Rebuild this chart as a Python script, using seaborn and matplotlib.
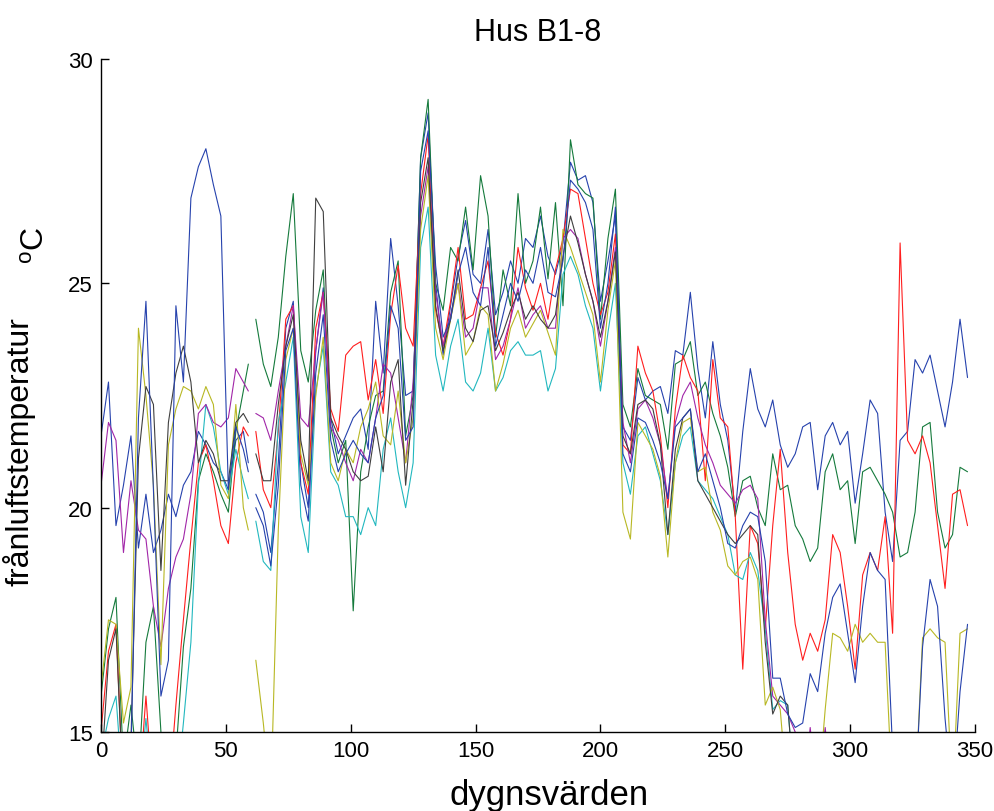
import numpy as np
import pandas as pd
import matplotlib
matplotlib.use('Agg')
import matplotlib.pyplot as plt
import seaborn as sns

# dygnsvärden: dag-index (glapp mellan dag 59 och 62)
days_pre = [0, 3, 6, 9, 12, 15, 18, 21, 24, 27, 30, 33, 36, 39, 42, 45, 48, 51, 54, 57, 59]
days_post = list(range(62, 348, 3))
L = 13.5  # under axeln (syns ej)

# frånluftstemperatur per hus, före och efter glappet
blue_a_pre = [21.6, 22.8, 19.6, 20.5, 21.6, 19.1, 20.3, 19.0, 19.5, 20.3, 19.8, 20.5, 20.8, 21.7, 21.4, 21.0, 20.8, 20.4, 21.5, 21.7, 21.0]
blue_a_post = [20.3, 19.9, 19.0, 21.0, 24.0, 24.6, 21.0, 20.0, 23.5, 24.9,
               22.0, 21.2, 21.6, 22.0, 22.2, 21.3, 24.6, 23.0, 26.0, 24.5,
               22.5, 22.6, 27.8, 28.8, 25.0, 23.4, 24.5, 25.6, 26.4, 25.2,
               25.0, 26.2, 24.3, 24.8, 25.5, 25.0, 26.0, 25.8, 26.5, 25.6,
               25.2, 25.9, 27.7, 27.3, 27.4, 26.8, 24.6, 25.5, 26.5, 21.8,
               21.5, 22.9, 22.4, 22.6, 22.7, 22.1, 23.5, 23.4, 24.8, 23.1,
               22.0, 23.7, 22.3, 21.5, 19.9, 21.7, 23.1, 22.2, 21.8, 22.4,
               21.4, 20.9, 21.2, 21.8, 21.9, 20.4, 21.6, 21.9, 21.4, 21.7,
               20.1, 21.2, 22.4, 22.1, 19.9, 18.8, 21.5, 21.7, 23.3, 23.0,
               23.4, 22.6, 21.8, 22.8, 24.2, 22.9]

green_pre = [15.8, 17.3, 18.0, 14.3, 15.6, 14.0, 17.0, 17.8, 15.0, L, 14.5, 16.9, 18.2, 20.6, 21.2, 20.8, 20.3, 19.9, 21.7, 22.6, 23.2]
green_post = [24.2, 23.2, 22.7, 23.8, 25.6, 27.0, 23.5, 22.8, 24.4, 25.3,
              21.8, 21.0, 21.5, 17.7, 20.8, 21.8, 22.5, 22.6, 24.8, 25.5,
              21.6, 22.5, 27.8, 29.1, 25.0, 24.4, 25.8, 25.5, 26.7, 25.3,
              27.4, 26.5, 23.8, 25.3, 24.5, 27.0, 25.0, 25.5, 26.7, 25.1,
              26.8, 24.5, 28.2, 27.2, 27.0, 26.9, 24.2, 26.0, 27.1, 22.3,
              21.8, 23.1, 22.5, 22.4, 22.3, 21.3, 23.2, 23.3, 23.7, 22.5,
              22.8, 22.1, 21.6, 20.9, 19.8, 20.6, 20.7, 20.0, 19.6, 21.2,
              20.4, 20.5, 19.6, 19.3, 18.8, 19.1, 20.8, 21.2, 20.4, 20.6,
              19.2, 20.8, 20.9, 20.6, 20.3, 19.9, 18.9, 19.0, 19.9, 21.8,
              21.9, 19.9, 19.1, 19.4, 20.9, 20.8]

red_pre = [15.0, 16.8, 17.4, L, L, L, 15.8, L, L, L, 15.6, 17.5, 19.3, 21.0, 21.4, 20.6, 19.6, 19.2, 21.0, 21.8, 21.6]
red_post = [21.7, 20.4, 20.0, 21.7, 24.2, 24.5, 21.0, 20.3, 24.0, 24.8,
            22.2, 21.7, 23.4, 23.6, 23.7, 22.4, 23.3, 22.1, 24.3, 25.4,
            24.0, 23.6, 27.0, 28.3, 24.4, 23.6, 24.6, 25.8, 24.2, 24.3,
            24.9, 25.5, 23.9, 23.4, 24.2, 25.8, 24.9, 24.4, 25.0, 24.2,
            25.3, 26.0, 27.1, 27.0, 26.0, 25.0, 24.3, 24.8, 26.1, 21.4,
            21.2, 23.6, 23.0, 22.6, 21.6, 20.0, 22.2, 23.4, 22.9, 22.6,
            20.6, 23.3, 22.0, 21.8, 19.8, 16.4, 19.6, 19.2, 17.3, 19.6,
            21.3, 19.0, 17.4, 16.6, 17.2, 16.8, 17.5, 19.4, 19.0, 17.8,
            16.4, 18.5, 19.0, 18.6, 19.8, 17.2, 25.9, 21.5, 21.2, 21.6,
            21.0, 19.6, 18.2, 20.3, 20.4, 19.6]

cyan_pre = [14.5, 15.3, 15.8, L, L, L, 15.3, L, L, L, L, 15.2, 17.0, 20.5, 22.3, 21.8, 20.8, 20.3, 21.3, 20.6, 20.2]
cyan_post = [19.7, 18.8, 18.6, 21.9, 22.8, 23.8, 19.8, 19.0, 22.6, 23.6,
             20.8, 20.5, 19.8, 19.8, 19.4, 20.0, 19.6, 21.3, 22.0, 20.8,
             20.0, 21.0, 25.8, 26.7, 23.4, 22.6, 23.6, 24.2, 22.8, 22.6,
             23.0, 24.0, 22.6, 22.9, 23.5, 23.7, 23.4, 23.4, 23.5, 22.6,
             23.1, 25.2, 25.6, 25.2, 24.5, 24.0, 22.6, 23.9, 25.0, 21.0,
             20.3, 21.6, 21.8, 21.2, 20.6, 19.4, 21.0, 21.6, 21.8, 20.6,
             20.4, 20.2, 19.8, 19.4, 18.5, 18.4, 19.0, 18.6, 17.3, 15.5,
             15.7, 15.6, L, L, L, L, L, L, L, L,
             L, L, L, L, L, L, L, L, L, L,
             L, L, L, L, L, L]

magenta_pre = [20.5, 21.9, 21.5, 19.0, 20.6, 19.5, 19.3, 17.8, 16.9, 18.2, 18.9, 19.3, 20.3, 22.1, 22.3, 21.9, 21.8, 22.0, 23.1, 22.8, 22.6]
magenta_post = [22.1, 22.0, 21.5, 22.6, 23.6, 24.5, 22.0, 21.8, 23.5, 24.8,
                21.8, 21.5, 21.0, 20.6, 21.3, 21.0, 22.0, 23.2, 23.0, 22.0,
                21.0, 22.8, 26.5, 27.6, 24.8, 23.6, 24.3, 25.0, 23.8, 24.0,
                24.9, 24.9, 23.3, 23.6, 24.2, 24.9, 24.0, 24.3, 24.5, 24.0,
                24.0, 26.0, 26.2, 26.0, 25.2, 24.6, 23.6, 24.6, 25.8, 21.9,
                21.0, 22.2, 22.4, 22.0, 21.4, 20.2, 21.9, 22.5, 22.8, 22.0,
                21.4, 21.0, 20.5, 20.3, 20.1, 20.4, 20.5, 20.2, 17.5, 15.8,
                15.6, 15.4, 15.0, L, 15.1, L, 15.1, L, L, L,
                L, L, L, L, L, L, L, L, L, L,
                L, L, L, L, L, L]

olive_pre = [16.0, 17.5, 17.4, 15.2, 16.0, 24.0, 22.5, 20.5, 16.5, 21.4, 22.2, 22.7, 22.6, 22.2, 22.7, 22.3, 20.5, 20.2, 22.3, 20.0, 19.5]
olive_post = [16.6, 15.2, L, 19.5, 23.3, 24.0, 21.2, 20.5, 22.5, 23.8,
              21.0, 20.6, 21.3, 21.0, 21.8, 22.2, 22.8, 21.6, 21.4, 22.6,
              21.0, 22.0, 26.2, 27.4, 24.0, 23.3, 24.2, 25.0, 23.4, 23.7,
              24.5, 24.3, 22.6, 23.2, 24.0, 24.4, 23.8, 24.1, 24.4, 23.9,
              23.4, 26.2, 25.8, 25.3, 24.8, 24.3, 22.8, 24.4, 25.5, 19.9,
              19.3, 21.9, 21.6, 21.3, 20.7, 18.9, 21.0, 21.9, 22.0, 20.8,
              20.9, 19.9, 19.5, 18.7, 18.5, 18.8, 18.9, 18.4, 15.6, 16.0,
              15.5, L, L, L, L, L, 15.5, 17.2, 17.1, 16.8,
              17.4, 17.0, 17.2, 17.0, 17.0, L, L, L, L, 17.1,
              17.3, 17.1, 17.0, L, 17.2, 17.3]

black_pre = [14.0, 16.6, 17.3, L, 14.8, 21.1, 22.7, 22.3, 18.6, 21.9, 23.0, 23.6, 22.8, 21.0, 21.5, 21.2, 20.6, 20.6, 21.9, 22.1, 21.9]
black_post = [21.2, 20.6, 20.6, 22.3, 23.6, 24.3, 21.5, 20.6, 26.9, 26.6,
              22.0, 21.6, 21.3, 20.8, 20.6, 20.7, 21.8, 20.8, 22.8, 23.3,
              20.5, 22.4, 26.8, 27.8, 24.5, 23.5, 24.2, 25.3, 24.0, 23.7,
              24.4, 24.5, 23.5, 23.9, 24.4, 24.8, 24.2, 24.5, 24.2, 24.0,
              24.3, 25.6, 26.5, 25.9, 25.2, 24.6, 23.8, 24.6, 25.7, 21.6,
              21.2, 22.3, 22.4, 22.2, 21.4, 19.4, 21.3, 22.0, 22.2, 20.6,
              20.3, 20.0, 19.7, 19.4, 19.2, 19.4, 19.6, 19.4, 17.0, 15.4,
              15.8, 15.6, L, L, L, L, L, L, L, L,
              L, L, L, L, L, L, L, L, L, L,
              L, L, L, L, L, L]

blue_b_pre = [L, L, L, L, 14.5, 22.0, 24.6, 20.4, 15.8, 16.6, 24.5, 22.8, 26.9, 27.6, 28.0, 27.2, 26.5, 20.4, 21.8, 21.3, 20.8]
blue_b_post = [20.0, 19.6, 18.7, 20.5, 23.5, 24.0, 20.5, 19.7, 23.0, 24.3,
               21.5, 20.8, 21.2, 21.5, 21.2, 21.0, 22.0, 22.5, 24.5, 24.0,
               21.5, 21.8, 27.5, 28.4, 25.4, 23.8, 24.2, 25.2, 25.8, 24.8,
               24.5, 25.8, 23.6, 24.3, 25.0, 24.6, 25.3, 25.0, 25.8, 24.8,
               24.7, 25.5, 27.3, 27.1, 26.8, 26.2, 24.0, 25.0, 26.7, 21.2,
               20.8, 22.0, 21.9, 21.5, 21.0, 20.2, 21.8, 22.0, 22.2, 20.8,
               21.2, 20.6, 20.0, 19.2, 19.1, 19.6, 19.9, 19.8, 18.8, 16.2,
               16.2, 15.4, 15.1, 15.2, 16.3, 15.9, 17.2, 18.0, 18.3, 17.2,
               16.1, 17.8, 19.0, 18.6, 18.4, 14.6, L, L, L, 16.9,
               18.4, 17.8, 15.3, L, 15.9, 17.4]

series = {
    'B1': (blue_a_pre, blue_a_post),
    'B2': (green_pre, green_post),
    'B3': (red_pre, red_post),
    'B4': (cyan_pre, cyan_post),
    'B5': (magenta_pre, magenta_post),
    'B6': (olive_pre, olive_post),
    'B7': (black_pre, black_post),
    'B8': (blue_b_pre, blue_b_post),
}
palette = {'B1': '#2642ad', 'B2': '#157a3c', 'B3': '#ff1e1e', 'B4': '#22b8bf',
           'B5': '#a126a8', 'B6': '#b8b824', 'B7': '#3f3f3f', 'B8': '#2642ad'}

rows = []
for name, (pre, post) in series.items():
    assert len(pre) == len(days_pre) and len(post) == len(days_post), name
    for seg, (dd, vv) in enumerate([(days_pre, pre), (days_post, post)]):
        for d, v in zip(dd, vv):
            rows.append({'dag': d, 'temp': v, 'hus': name, 'seg': f'{name}_{seg}'})
df = pd.DataFrame(rows)

sns.set_style('ticks', {'xtick.direction': 'in', 'ytick.direction': 'in'})
plt.rcParams['font.family'] = ['Liberation Sans', 'DejaVu Sans']
plt.rcParams['mathtext.default'] = 'regular'
plt.rcParams['text.color'] = 'black'
plt.rcParams['axes.labelcolor'] = 'black'

fig = plt.figure(figsize=(9.94, 8.12), dpi=100)
ax = fig.add_axes([0.1016, 0.0973, 0.8793, 0.8288])

sns.lineplot(data=df, x='dag', y='temp', hue='hus', units='seg', estimator=None,
             palette=palette, hue_order=list(series.keys()), legend=False,
             linewidth=0.8, ax=ax)

ax.set_xlim(0, 350)
ax.set_ylim(15, 30)
ax.set_xticks([0, 50, 100, 150, 200, 250, 300, 350])
ax.set_yticks([15, 20, 25, 30])
ax.tick_params(labelsize=16, length=6, width=1, pad=6, colors='black')
sns.despine(ax=ax)
for s in ['left', 'bottom']:
    ax.spines[s].set_color('black')
    ax.spines[s].set_linewidth(1)

ax.set_title('Hus B1-8', fontsize=22, pad=14, color='black')
ax.set_xlabel('dygnsvärden', fontsize=25)
ax.xaxis.set_label_coords(0.513, -0.068)
ax.set_ylabel('frånluftstemperatur', fontsize=23)
ax.yaxis.set_label_coords(-0.075, 0.418)
ax.text(-0.075, 0.725, '$^{o}$C', transform=ax.transAxes, rotation=90,
        fontsize=23, ha='center', va='center', color='black')

fig.savefig('out.png', dpi=100)
